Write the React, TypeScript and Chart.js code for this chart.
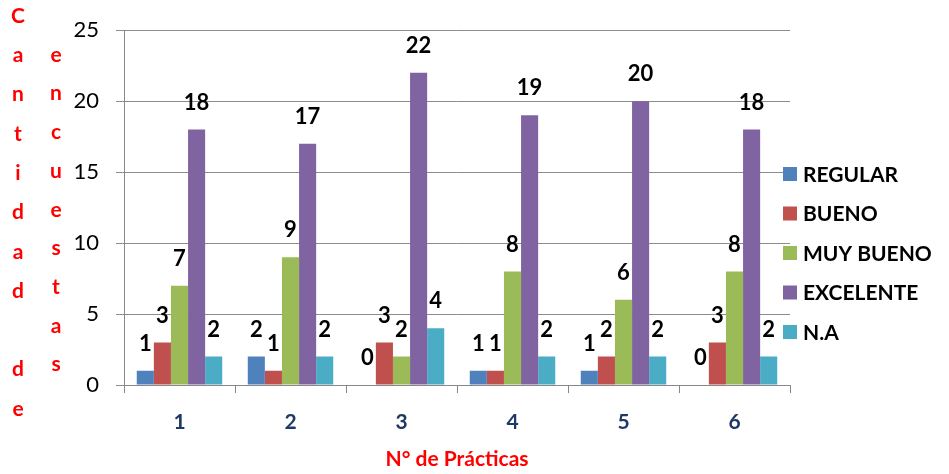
import React, { useEffect, useRef } from "react";
import { Chart, registerables } from "chart.js";

Chart.register(...registerables);

const categories = ["1", "2", "3", "4", "5", "6"];
const regular = [1, 2, 0, 1, 1, 0];
const bueno = [3, 1, 3, 1, 2, 3];
const muyBueno = [7, 9, 2, 8, 6, 8];
const excelente = [18, 17, 22, 19, 20, 18];
const na = [2, 2, 4, 2, 2, 2];
const seriesNames = ["REGULAR", "BUENO", "MUY BUENO", "EXCELENTE", "N.A"];
const seriesColors = ["#4F81BD", "#C0504D", "#9BBB59", "#8064A2", "#4BACC6"];
const yTitleCol1 = ["C", "a", "n", "t", "i", "d", "a", "d", "", "d", "e"];
const yTitleCol2 = ["e", "n", "c", "u", "e", "s", "t", "a", "s"];
const xTitle = "N° de Prácticas";

const FONT = "Lato, 'Open Sans', sans-serif";

const overlayPlugin = {
  id: "overlay",
  afterDatasetsDraw(chart: any) {
    const ctx = chart.ctx;
    ctx.save();
    // data labels
    ctx.font = `bold 22px ${FONT}`;
    ctx.fillStyle = "#000";
    ctx.textAlign = "center";
    ctx.textBaseline = "middle";
    chart.data.datasets.forEach((ds: any, i: number) => {
      const meta = chart.getDatasetMeta(i);
      meta.data.forEach((bar: any, j: number) => {
        ctx.fillText(String(ds.data[j]), bar.x, bar.y - 27);
      });
    });
    // legend
    const lx = chart.chartArea.right - 7;
    ctx.font = `bold 21px ${FONT}`;
    ctx.textAlign = "left";
    seriesNames.forEach((name, i) => {
      const cy = 174 + i * 39.5;
      ctx.fillStyle = seriesColors[i];
      ctx.fillRect(lx, cy - 7, 14, 14);
      ctx.fillStyle = "#000";
      ctx.fillText(name, lx + 20, cy + 1);
    });
    // y title stacked letters
    ctx.font = `bold 21px ${FONT}`;
    ctx.fillStyle = "#FF0000";
    ctx.textAlign = "center";
    yTitleCol1.forEach((ch, i) => {
      if (ch) ctx.fillText(ch, 18, 16 + i * 39.3);
    });
    yTitleCol2.forEach((ch, i) => {
      if (ch) ctx.fillText(ch, 56, 55 + i * 38.7);
    });
    ctx.restore();
  },
};

export default function App() {
  const ref = useRef<HTMLCanvasElement>(null);
  useEffect(() => {
    const data = [regular, bueno, muyBueno, excelente, na];
    const chart = new Chart(ref.current as HTMLCanvasElement, {
      type: "bar",
      data: {
        labels: categories,
        datasets: seriesNames.map((n, i) => ({
          label: n,
          data: data[i],
          backgroundColor: seriesColors[i],
          barPercentage: 1,
          categoryPercentage: 0.77,
        })),
      },
      options: {
        animation: false,
        responsive: false,
        maintainAspectRatio: false,
        layout: { padding: { top: 27, right: 159, bottom: 2, left: 0 } },
        plugins: { legend: { display: false }, tooltip: { enabled: false } },
        scales: {
          x: {
            offset: true,
            grid: { drawOnChartArea: false, offset: true, tickLength: 8, color: "#888" },
            border: { color: "#888" },
            ticks: { color: "#1F3864", font: { family: FONT, size: 21, weight: "bold" }, padding: 17 },
            title: {
              display: true,
              text: xTitle,
              color: "#FF0000",
              font: { family: FONT, size: 21, weight: "bold" },
              padding: 0,
            },
            afterFit: (s: any) => {
              s.height = 474 - 385 - 2;
            },
          },
          y: {
            min: 0,
            max: 25,
            grid: { color: "#8c8c8c", tickLength: 8 },
            border: { color: "#888" },
            ticks: { stepSize: 5, color: "#000", font: { family: FONT, size: 22 }, padding: 17 },
            afterFit: (s: any) => {
              s.width = 124;
            },
          },
        },
      },
      plugins: [overlayPlugin],
    } as any);
    return () => chart.destroy();
  }, []);
  return (
    <div style={{ position: "fixed", left: 0, top: 0, width: 949, height: 474, background: "#fff" }}>
      <canvas ref={ref} width={949} height={474} />
    </div>
  );
}
